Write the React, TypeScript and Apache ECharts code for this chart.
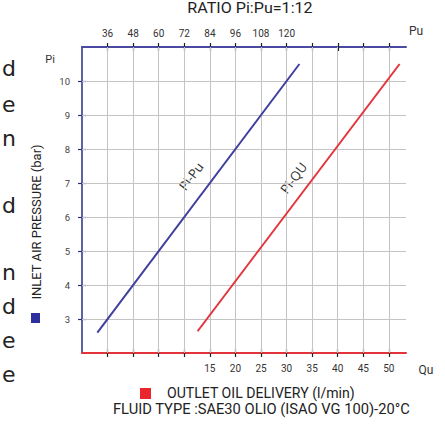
import React, { useEffect, useRef } from "react";
import * as echarts from "echarts";

// Data
const piPuLine: [number, number][] = [
  [31.2, 2.6],
  [126, 10.5],
];
const piQuLine: [number, number][] = [
  [12.6, 2.64],
  [52.1, 10.5],
];
const puTickValues = [36, 48, 60, 72, 84, 96, 108, 120, 132, 144, 156, 168];
const puLabelValues = [36, 48, 60, 72, 84, 96, 108, 120];
const quTickValues = [-5, 0, 5, 10, 15, 20, 25, 30, 35, 40, 45, 50];
const quLabelValues = [15, 20, 25, 30, 35, 40, 45, 50];
const piLabelValues = [3, 4, 5, 6, 7, 8, 9, 10];
const sideLetters = ["d", "e", "n", "d", "n", "d", "e", "e"];

const title = "RATIO Pi:Pu=1:12";
const yName = "INLET AIR PRESSURE (bar)";
const legendText = "OUTLET OIL DELIVERY (l/min)";
const fluidText = "FLUID TYPE :SAE30 OLIO (ISAO VG 100)-20°C";

const BLUE_AXIS = "#4a4aa2";
const NAVY = "#2c2c85";
const RED = "#e3343b";
const BLUE_LINE = "#3f3f9e";
const GRID = "#c4c4c4";
const FONT = "Roboto";

const sideLetterY = [68, 104, 138, 205, 272, 306, 340, 374];

export default function App() {
  const ref = useRef<HTMLDivElement>(null);
  useEffect(() => {
    if (!ref.current) return;
    const chart = echarts.init(ref.current, undefined, { renderer: "svg" });
    const tickCommon = { lineStyle: { color: "#222", width: 1.2 }, length: 4 };
    const option: any = {
      animation: false,
      backgroundColor: "#fff",
      grid: { left: 82, right: 39, top: 47, bottom: 74, containLabel: false },
      xAxis: [
        {
          type: "value",
          position: "top",
          min: 24,
          max: 176,
          interval: 12,
          axisLine: { show: true, onZero: false, lineStyle: { color: BLUE_AXIS, width: 2 } },
          axisTick: { show: true, inside: false, customValues: puTickValues, ...tickCommon },
          axisLabel: {
            show: true,
            customValues: puLabelValues,
            margin: 9,
            fontSize: 10,
            color: "#333",
            fontFamily: FONT,
          },
          splitLine: { show: false },
        },
        {
          type: "value",
          position: "top",
          min: 24,
          max: 176,
          interval: 12,
          axisLine: { show: false, onZero: false },
          axisTick: { show: true, inside: true, customValues: puTickValues, ...tickCommon },
          axisLabel: { show: false },
          splitLine: { show: false },
        },
        {
          type: "value",
          position: "bottom",
          min: -10,
          max: 53.35,
          interval: 5,
          axisLine: { show: true, onZero: false, lineStyle: { color: RED, width: 2 } },
          axisTick: { show: true, inside: false, customValues: quTickValues, ...tickCommon },
          axisLabel: {
            show: true,
            customValues: quLabelValues,
            margin: 10,
            fontSize: 10,
            color: "#333",
            fontFamily: FONT,
          },
          splitLine: { show: false },
        },
        {
          type: "value",
          position: "bottom",
          min: -10,
          max: 53.35,
          interval: 5,
          axisLine: { show: false, onZero: false },
          axisTick: { show: true, inside: true, customValues: quTickValues, ...tickCommon },
          axisLabel: { show: false },
          splitLine: { show: false },
        },
      ],
      yAxis: [
        {
          type: "value",
          position: "left",
          min: 2,
          max: 11,
          interval: 1,
          axisLine: { show: true, onZero: false, lineStyle: { color: NAVY, width: 1.5 } },
          axisTick: { show: true, inside: false, customValues: piLabelValues, length: 4, lineStyle: { color: NAVY, width: 1.2 } },
          axisLabel: {
            show: true,
            customValues: piLabelValues,
            margin: 12,
            fontSize: 9.5,
            color: "#444",
            fontFamily: FONT,
          },
          splitLine: { show: false },
        },
        {
          type: "value",
          position: "left",
          min: 2,
          max: 11,
          interval: 1,
          axisLine: { show: false, onZero: false },
          axisTick: { show: true, inside: true, customValues: piLabelValues, length: 4, lineStyle: { color: NAVY, width: 1.2 } },
          axisLabel: { show: false },
          splitLine: { show: false },
        },
      ],
      series: [
        {
          type: "line",
          name: "Pi-Pu",
          xAxisIndex: 0,
          yAxisIndex: 0,
          data: piPuLine,
          showSymbol: false,
          symbol: "none",
          lineStyle: { color: BLUE_LINE, width: 2 },
          z: 5,
        },
        {
          type: "line",
          name: "Pi-QU",
          xAxisIndex: 2,
          yAxisIndex: 0,
          data: piQuLine,
          showSymbol: false,
          symbol: "none",
          lineStyle: { color: RED, width: 2 },
          z: 5,
          markLine: {
            silent: true,
            symbol: ["none", "none"],
            animation: false,
            label: { show: false },
            lineStyle: { color: GRID, width: 1, type: "solid", opacity: 1 },
            emphasis: { disabled: true },
            data: [
              ...quTickValues.map((v) => ({ xAxis: v })),
              ...piLabelValues.map((v) => ({ yAxis: v })),
            ],
          },
        },
      ],
    };
    chart.setOption(option);

    // line labels placed at a point on each line, via the chart's own scales
    const onLine = (line: [number, number][], y: number) =>
      line[0][0] + ((y - line[0][1]) / (line[1][1] - line[0][1])) * (line[1][0] - line[0][0]);
    const bluePt = chart.convertToPixel({ xAxisIndex: 0, yAxisIndex: 0 }, [onLine(piPuLine, 7.2), 7.2]) as number[];
    const redPt = chart.convertToPixel({ xAxisIndex: 2, yAxisIndex: 0 }, [onLine(piQuLine, 7.15), 7.15]) as number[];
    const rot = (53 * Math.PI) / 180;

    const graphic: any[] = [
      {
        type: "text",
        x: 250,
        y: 8,
        scaleX: 1.15,
        style: { text: title, fontSize: 14, fontFamily: FONT, fill: "#222", align: "center", verticalAlign: "middle" },
      },
      {
        type: "text",
        x: 416,
        y: 31,
        style: { text: "Pu", fontSize: 12, fontFamily: FONT, fill: "#333", align: "center", verticalAlign: "middle" },
      },
      {
        type: "text",
        x: 426,
        y: 370,
        style: { text: "Qu", fontSize: 12, fontFamily: FONT, fill: "#333", align: "center", verticalAlign: "middle" },
      },
      {
        type: "text",
        x: 50,
        y: 59,
        style: { text: "Pi", fontSize: 11, fontFamily: FONT, fill: "#333", align: "center", verticalAlign: "middle" },
      },
      {
        type: "text",
        x: 36,
        y: 222,
        rotation: Math.PI / 2,
        style: { text: yName, fontSize: 13, fontFamily: FONT, fill: "#222", align: "center", verticalAlign: "middle" },
      },
      { type: "rect", shape: { x: 31, y: 313, width: 9, height: 10 }, style: { fill: "#2e2e9e" } },
      { type: "rect", shape: { x: 140, y: 388, width: 11, height: 11 }, style: { fill: "#e8262c" } },
      {
        type: "text",
        x: 167,
        y: 393,
        scaleX: 0.94,
        style: { text: legendText, fontSize: 15, fontFamily: FONT, fill: "#222", align: "left", verticalAlign: "middle" },
      },
      {
        type: "text",
        x: 113,
        y: 409,
        scaleX: 0.98,
        style: { text: fluidText, fontSize: 15, fontFamily: FONT, fill: "#222", align: "left", verticalAlign: "middle" },
      },
      {
        type: "text",
        x: bluePt[0] - 24,
        y: bluePt[1],
        rotation: rot,
        style: { text: "Pi-Pu", fontSize: 13, fontFamily: "Open Sans", fill: "#333", align: "center", verticalAlign: "middle" },
      },
      {
        type: "text",
        x: redPt[0] - 20,
        y: redPt[1],
        rotation: rot,
        style: { text: "Pi-QU", fontSize: 13, fontFamily: "Open Sans", fill: "#333", align: "center", verticalAlign: "middle" },
      },
      ...sideLetters.map((ch, i) => ({
        type: "text",
        x: 2,
        y: sideLetterY[i],
        style: { text: ch, fontSize: 22, fontFamily: "DejaVu Sans", fill: "#222", align: "left", verticalAlign: "middle" },
      })),
    ];
    chart.setOption({ graphic });
    return () => chart.dispose();
  }, []);
  return <div ref={ref} style={{ position: "absolute", left: 0, top: 0, width: 445, height: 427 }} />;
}
